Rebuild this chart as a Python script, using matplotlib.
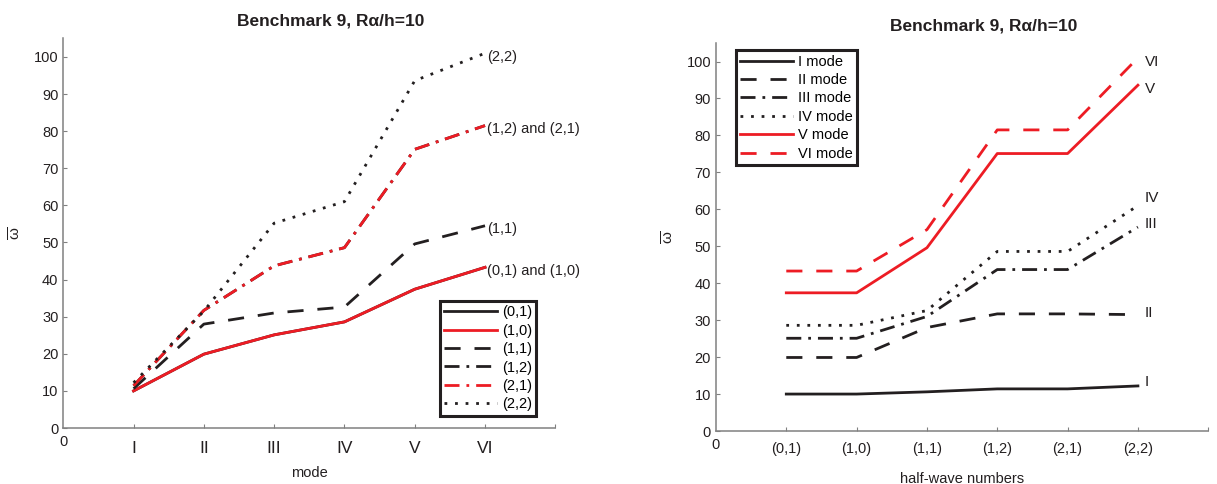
"""Benchmark 9 (Rα/h=10) natural frequencies: mode view and half-wave view."""

import matplotlib

matplotlib.use("Agg")

import matplotlib.pyplot as plt
import numpy as np

# 데이터: half-wave number (m,n) 별 모드 I..VI 무차원 주파수
MODES = ["I", "II", "III", "IV", "V", "VI"]
HALF_WAVES = ["(0,1)", "(1,0)", "(1,1)", "(1,2)", "(2,1)", "(2,2)"]

FREQ_01 = [10.0, 19.9, 25.1, 28.6, 37.4, 43.3]
FREQ_10 = [10.0, 19.9, 25.1, 28.6, 37.4, 43.3]
FREQ_11 = [10.6, 28.0, 31.0, 32.6, 49.6, 54.5]
FREQ_12 = [11.4, 31.7, 43.7, 48.6, 75.1, 81.5]
FREQ_21 = [11.4, 31.7, 43.7, 48.6, 75.1, 81.5]
FREQ_22 = [12.2, 31.5, 55.2, 61.0, 93.6, 101.0]

MODE_LEGEND = ["I mode", "II mode", "III mode", "IV mode", "V mode", "VI mode"]
LEFT_END_LABELS = ["(0,1) and (1,0)", "(1,1)", "(1,2) and (2,1)", "(2,2)"]

BLACK = "#231f20"
RED = "#ed1c24"
GRAY = "#808080"

DASHED = (0, (5.8, 5.0))
DASHDOT = (0, (5.4, 2.5, 1.0, 2.5))
DOTTED = (0, (1.0, 2.8))

plt.rcParams["font.family"] = ["Liberation Sans", "DejaVu Sans"]
plt.rcParams["mathtext.default"] = "regular"


def _style_axes(ax, labels, xlabel, label_y, tick_pad):
    for side in ("top", "right"):
        ax.spines[side].set_visible(False)
    for side in ("left", "bottom"):
        ax.spines[side].set_color(GRAY)
        ax.spines[side].set_linewidth(1.1)
    ax.set_xlim(0, 7)
    ax.set_ylim(0, 105)
    ax.set_yticks(np.arange(0, 101, 10))
    ax.tick_params(axis="y", direction="in", length=3, color=GRAY,
                   labelsize=10.5, labelcolor=BLACK, pad=3.5)
    ax.set_xticks(np.arange(1, 8), labels + [""])
    ax.tick_params(axis="x", direction="in", length=3, color=GRAY,
                   labelcolor=BLACK, pad=tick_pad)
    ax.annotate("0", xy=(0, 0), xycoords=("data", "axes fraction"),
                xytext=(0, -5), textcoords="offset points",
                ha="center", va="top", fontsize=10.5, color=BLACK,
                annotation_clip=False)
    ax.set_xlabel(xlabel, fontsize=10.5, color=BLACK)
    ax.xaxis.set_label_coords(0.5, label_y)
    ax.set_ylabel(r"$\overline{\omega}$", fontsize=11, color=BLACK)
    ax.yaxis.set_label_coords(-0.08, 0.5)
    ax.set_title("Benchmark 9, Rα/h=10", fontsize=12.5, fontweight="bold",
                 color=BLACK, x=0.543, pad=9)


def draw_mode_view(ax):
    x = np.arange(1, len(MODES) + 1)
    series = [
        (FREQ_01, BLACK, "-", "(0,1)"),
        (FREQ_10, RED, "-", "(1,0)"),
        (FREQ_11, BLACK, DASHED, "(1,1)"),
        (FREQ_12, BLACK, DASHDOT, "(1,2)"),
        (FREQ_21, RED, DASHDOT, "(2,1)"),
        (FREQ_22, BLACK, DOTTED, "(2,2)"),
    ]
    for vals, color, ls, label in series:
        ax.plot(x, vals, color=color, linestyle=ls, linewidth=2, label=label)

    # 선 끝 주석
    ends = [FREQ_10[-1], FREQ_11[-1], FREQ_12[-1], FREQ_22[-1]]
    for text, yv in zip(LEFT_END_LABELS, ends):
        ax.text(x[-1] + 0.03, yv - 1.0, text, ha="left", va="center",
                fontsize=10.5, color=BLACK)

    _style_axes(ax, MODES, "mode", -0.097, 9)
    for lbl in ax.get_xticklabels():
        lbl.set_fontsize(12.5)

    leg = ax.legend(loc="lower right", bbox_to_anchor=(0.976, 0.013),
                    fontsize=10.5, handlelength=3.6, handletextpad=0.35,
                    labelspacing=0.3, borderpad=0.3, fancybox=False,
                    framealpha=1)
    leg.get_frame().set_edgecolor(BLACK)
    leg.get_frame().set_linewidth(2.2)


def draw_half_wave_view(ax):
    x = np.arange(1, len(HALF_WAVES) + 1)
    table = np.array([FREQ_01, FREQ_10, FREQ_11, FREQ_12, FREQ_21, FREQ_22])
    styles = [
        (BLACK, "-"),
        (BLACK, DASHED),
        (BLACK, DASHDOT),
        (BLACK, DOTTED),
        (RED, "-"),
        (RED, DASHED),
    ]
    for k, (color, ls) in enumerate(styles):
        ax.plot(x, table[:, k], color=color, linestyle=ls, linewidth=2,
                label=MODE_LEGEND[k])

    label_shift = [1.0, 0.5, 0.8, 2.0, -1.0, -1.0]
    for k, mode in enumerate(MODES):
        ax.text(x[-1] + 0.1, table[-1, k] + label_shift[k], mode,
                ha="left", va="center", fontsize=11, color=BLACK)

    _style_axes(ax, HALF_WAVES, "half-wave numbers", -0.105, 8)
    for lbl in ax.get_xticklabels():
        lbl.set_fontsize(10.5)

    leg = ax.legend(loc="upper left", bbox_to_anchor=(0.026, 1.0),
                    fontsize=10.5, handlelength=3.6, handletextpad=0.35,
                    labelspacing=0.3, borderpad=0.3, fancybox=False,
                    framealpha=1)
    leg.get_frame().set_edgecolor(BLACK)
    leg.get_frame().set_linewidth(2.2)


def main():
    fig = plt.figure(figsize=(12.17, 4.84), dpi=100)
    ax_left = fig.add_axes([0.052, 0.1157, 0.4043, 0.805])
    ax_right = fig.add_axes([0.5883, 0.1095, 0.4045, 0.8015])
    draw_mode_view(ax_left)
    draw_half_wave_view(ax_right)
    fig.savefig("out.png", dpi=100)
    plt.close(fig)


if __name__ == "__main__":
    main()
